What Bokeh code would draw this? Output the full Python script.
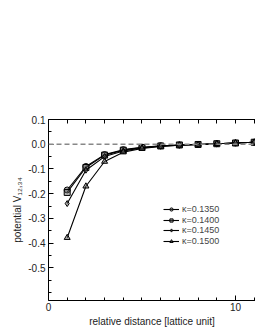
from bokeh.plotting import figure
from bokeh.models import (FixedTicker, LinearAxis, Span, Legend, LegendItem,
                          Range1d)
from bokeh.embed import file_html
from bokeh.resources import INLINE

distance = [1, 2, 3, 4, 5, 6, 7, 8, 9, 10, 11]
v_1350 = [-0.185, -0.090, -0.042, -0.022, -0.012, -0.006, -0.003, -0.001, 0.002, 0.005, 0.008]
v_1400 = [-0.195, -0.094, -0.044, -0.024, -0.013, -0.007, -0.003, -0.001, 0.002, 0.005, 0.008]
v_1450 = [-0.240, -0.105, -0.050, -0.027, -0.015, -0.008, -0.004, -0.001, 0.002, 0.005, 0.008]
v_1500 = [-0.378, -0.170, -0.070, -0.032, -0.017, -0.009, -0.004, -0.001, 0.002, 0.005, 0.008]
labels = ["κ=0.1350", "κ=0.1400", "κ=0.1450", "κ=0.1500"]
markers = ["circle", "square", "diamond", "triangle"]
x_major = [0, 10]
x_minor = [1, 2, 3, 4, 5, 6, 7, 8, 9, 11]
y_major = [-0.5, -0.4, -0.3, -0.2, -0.1, 0.0, 0.1]
y_minor = [-0.6, -0.55, -0.45, -0.35, -0.25, -0.15, -0.05, 0.05]

FONT = "Liberation Sans"

p = figure(width=255, height=330, output_backend="svg", toolbar_location=None,
           x_range=Range1d(0, 11.07), y_range=Range1d(-0.632, 0.1),
           min_border_left=48, min_border_top=119, min_border_bottom=30,
           min_border_right=0)
p.outline_line_color = None
p.grid.visible = False

for ax in (p.xaxis[0], p.yaxis[0]):
    ax.major_tick_in = 5
    ax.major_tick_out = 0
    ax.minor_tick_in = 3
    ax.minor_tick_out = 0
    ax.axis_line_color = "black"
    ax.major_label_text_font = FONT
    ax.major_label_text_font_size = "10px"
    ax.major_label_text_color = "#222222"
    ax.axis_label_text_font = FONT
    ax.axis_label_text_font_size = "10px"
    ax.axis_label_text_font_style = "normal"
    ax.axis_label_text_color = "#222222"

p.xaxis[0].ticker = FixedTicker(ticks=x_major, minor_ticks=x_minor)
p.yaxis[0].ticker = FixedTicker(ticks=y_major, minor_ticks=y_minor)
p.yaxis[0].major_label_overrides = {v: f"{v:.1f}" for v in y_major}
p.xaxis[0].axis_label = "relative distance [lattice unit]"
p.xaxis[0].axis_label_standoff = 2
p.xaxis[0].major_label_standoff = 2
p.yaxis[0].axis_label = "potential V₁₂,₃₄"
p.yaxis[0].axis_label_standoff = 2
p.yaxis[0].major_label_standoff = 3

top = LinearAxis(ticker=FixedTicker(ticks=[], minor_ticks=x_major + x_minor),
                 minor_tick_in=4, minor_tick_out=0, axis_line_color="black")
p.add_layout(top, "above")

p.add_layout(Span(location=0, dimension="width", line_color="#888888",
                  line_dash="5 3", line_width=1.4))

legend_offsets = [86, 75.5, 65, 54.5]
for vals, lab, mk, off in zip([v_1350, v_1400, v_1450, v_1500], labels, markers,
                              legend_offsets):
    r1 = p.line(distance, vals, line_color="black", line_width=1.1)
    r2 = p.scatter(distance, vals, marker=mk, size=6, line_color="black",
                   fill_color="#666666", fill_alpha=0.5, line_width=1)
    leg = Legend(items=[LegendItem(label=lab, renderers=[r1, r2])],
                 location=(115, off), background_fill_alpha=0,
                 border_line_color=None, label_text_font=FONT,
                 label_text_font_size="9px", glyph_width=16, glyph_height=8,
                 label_height=8, spacing=0, padding=0, margin=0,
                 label_standoff=3)
    p.add_layout(leg, "center")

open("out.html", "w").write(file_html(p, INLINE))
